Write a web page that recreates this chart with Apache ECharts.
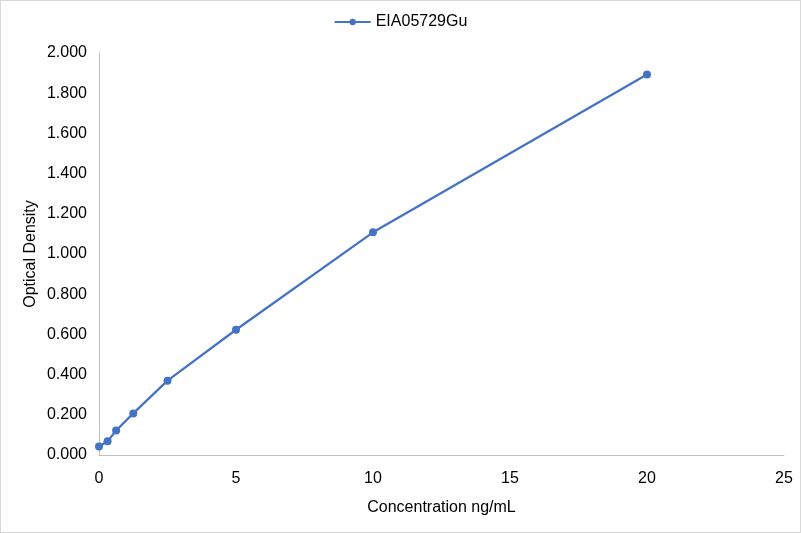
<!DOCTYPE html>
<html><head><meta charset="utf-8">
<script src="https://cdn.jsdelivr.net/npm/echarts@6/dist/echarts.min.js"></script>
<style>html,body{margin:0;padding:0;background:#fff}#c{width:801px;height:533px;box-sizing:border-box;border:1px solid #d9d9d9}</style>
</head><body><div id="c"></div>
<script>
const seriesName = 'EIA05729Gu';
const concentrations = [0, 0.3125, 0.625, 1.25, 2.5, 5, 10, 20];
const densities = [0.042, 0.068, 0.122, 0.207, 0.370, 0.623, 1.108, 1.893];
const xTitle = 'Concentration ng/mL';
const yTitle = 'Optical Density';

const chart = echarts.init(document.getElementById('c'));
const font = 'Liberation Sans, Arial, sans-serif';
chart.setOption({
  animation: false,
  textStyle: {fontFamily: font},
  legend: {top: 8, left: 'center', itemWidth: 36, itemHeight: 8, itemGap: 8,
    textStyle: {fontSize: 16, color: '#000', fontFamily: font},
    data: [seriesName]},
  grid: {left: 98, right: 16, top: 52, bottom: 77, containLabel: false},
  xAxis: {type: 'value', min: 0, max: 25, interval: 5,
    name: xTitle, nameLocation: 'middle', nameGap: 45,
    nameTextStyle: {fontSize: 16, color: '#000', fontFamily: font},
    axisLine: {lineStyle: {color: '#bfbfbf'}}, axisTick: {show: false},
    splitLine: {show: false},
    axisLabel: {fontSize: 16, color: '#000', margin: 16, fontFamily: font}},
  yAxis: {type: 'value', min: 0, max: 2, interval: 0.2,
    name: yTitle, nameLocation: 'middle', nameGap: 60, nameMoveOverlap: false,
    nameTextStyle: {fontSize: 16, color: '#000', fontFamily: font},
    axisLine: {show: true, lineStyle: {color: '#bfbfbf'}}, axisTick: {show: false},
    splitLine: {show: false},
    axisLabel: {fontSize: 16, color: '#000', margin: 12, fontFamily: font,
      formatter: v => v.toFixed(3)}},
  series: [{name: seriesName, type: 'line',
    data: concentrations.map((x, i) => [x, densities[i]]),
    symbol: 'circle', symbolSize: 8,
    lineStyle: {color: '#4472c4', width: 2.25},
    itemStyle: {color: '#4472c4'}}]
});
</script></body></html>
